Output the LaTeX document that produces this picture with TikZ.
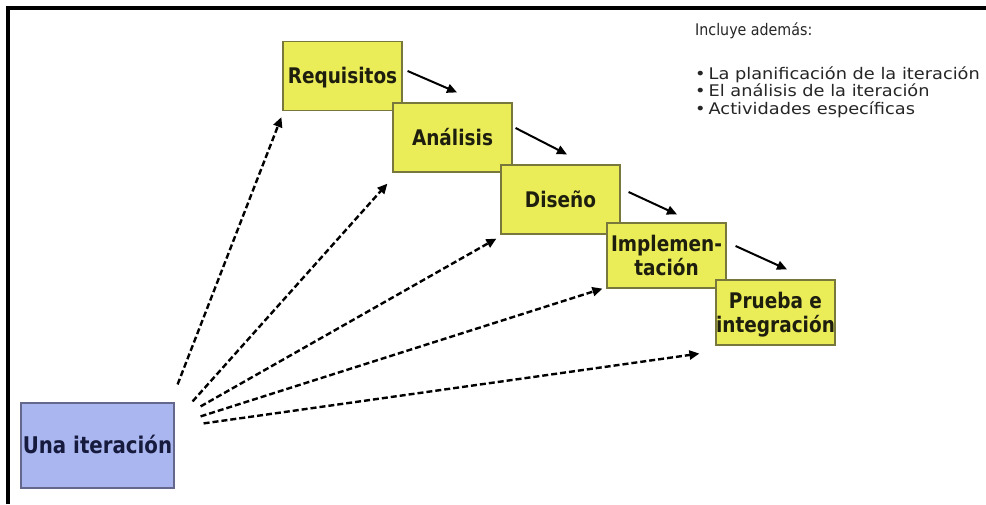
\documentclass[tikz,border=0pt]{standalone}
\usepackage{fontspec}
\setmainfont{DejaVu Sans}
\usetikzlibrary{arrows.meta,calc}
\definecolor{phasefill}{RGB}{234,236,88}
\definecolor{phaseline}{RGB}{120,120,60}
\definecolor{iterfill}{RGB}{170,182,240}
\definecolor{iterline}{RGB}{100,104,140}
\definecolor{itertext}{RGB}{22,26,60}
\definecolor{phasetext}{RGB}{30,30,15}
% horizontally condensed / stretched text blocks
\newcommand\narrowtext[2][0.86]{\raisebox{-3pt}[\height][\depth]{\scalebox{#1}[1]{\begin{tabular}{@{}c@{}}#2\end{tabular}}}}
\newcommand\listtext[2][1]{\scalebox{#1}[1]{\begin{tabular}{@{}l@{}}#2\end{tabular}}}
\tikzset{
  phase/.style={draw=phaseline, line width=1.2pt, fill=phasefill, inner sep=0pt,
    minimum width=119pt, minimum height=69pt, align=center, text=phasetext,
    font=\fontsize{21.5}{23}\selectfont\bfseries},
  iterbox/.style={draw=iterline, line width=1.2pt, fill=iterfill, inner sep=0pt,
    minimum width=153pt, minimum height=85pt, text=itertext,
    font=\fontsize{23}{25}\selectfont\bfseries},
  flow/.style={line width=2pt, -{Triangle[length=10pt,width=9pt]}},
  feed/.style={line width=2.4pt, dash pattern=on 6pt off 3pt,
    -{Triangle[length=10pt,width=9pt]}},
  note/.style={anchor=base west, inner sep=0pt, text=black!85,
    font=\fontsize{16}{17}\selectfont}
}
\begin{document}
\begin{tikzpicture}[x=1pt,y=-1pt]
  \useasboundingbox (0,0) rectangle (986,504);
  \fill[white] (0,0) rectangle (986,504);
  % frame
  \draw[line width=4pt] (8,504) -- (8,8) -- (986,8);

  % phases of the iteration
  \node[phase] (req) at (342.5,76) {\narrowtext{Requisitos}};
  \node[phase] (ana) at (452.5,137.5) {\narrowtext{Análisis}};
  \node[phase] (dis) at (560.5,199.5) {\narrowtext{Diseño}};
  \node[phase, minimum height=65pt] (imp) at (666.5,255.5) {\narrowtext{Implemen-\\tación}};
  \node[phase, minimum height=65pt] (pru) at (775.5,312.5) {\narrowtext{Prueba e\\integración}};

  \node[iterbox] (una) at (97.5,445.5) {\narrowtext{Una iteración}};

  % notes
  \node[note] (head) at (695,35) {\scalebox{0.89}[1]{Incluye además:}};
  \node[note, anchor=north west] (list) at (695,66)
    {\listtext[1.11]{•\,La planificación de la iteración\\•\,El análisis de la iteración\\•\,Actividades específicas}};

  % sequence between phases
  \draw[flow] ($(req.east)+(5,-5)$) -- ($(ana.north)+(4.5,-10)$);
  \draw[flow] ($(ana.east)+(3,-9.5)$) -- ($(dis.north)+(6.5,-10)$);
  \draw[flow] ($(dis.east)+(8,-7.5)$) -- ($(imp.north)+(10.5,-8)$);
  \draw[flow] ($(imp.east)+(9,-9.5)$) -- ($(pru.north)+(11.5,-10)$);

  % the iteration feeds every phase
  \draw[feed] ($(una.north east)+(3,-18)$) -- ($(req.south west)+(-1,6)$);
  \draw[feed] ($(una.north east)+(18,-1)$) -- ($(ana.south west)+(-5,11)$);
  \draw[feed] ($(una.north east)+(26,4)$) -- ($(dis.south west)+(-4,4)$);
  \draw[feed] ($(una.north east)+(26,14)$) -- ($(imp.south west)+(-4,0)$);
  \draw[feed] ($(una.north east)+(29,21)$) -- ($(pru.south west)+(-16,8)$);
\end{tikzpicture}
\end{document}
